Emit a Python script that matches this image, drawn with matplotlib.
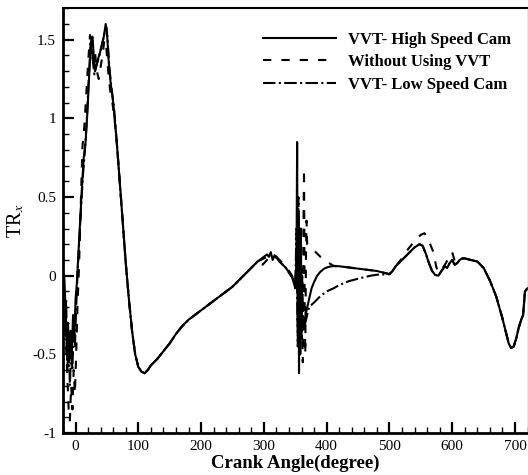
import numpy as np
import matplotlib
matplotlib.use("Agg")
import matplotlib.pyplot as plt
from matplotlib.ticker import MultipleLocator

plt.rcParams["font.family"] = ["Liberation Serif", "DejaVu Serif"]
plt.rcParams["mathtext.fontset"] = "stix"

# ---- data: torque ratio TR_x versus crank angle (degree) ----
# shared stretch of the cycle (expansion, 100-290 deg)
mid_angle = [65, 70, 75, 80, 85, 90, 95, 100, 105, 110, 115, 120, 130, 140, 150,
             160, 170, 180, 190, 200, 210, 220, 230, 240, 250, 260, 270, 280, 290]
mid_tr = [0.88, 0.62, 0.35, 0.08, -0.15, -0.35, -0.50, -0.58, -0.61, -0.62, -0.60,
          -0.57, -0.53, -0.48, -0.43, -0.37, -0.32, -0.28, -0.25, -0.22, -0.19,
          -0.16, -0.13, -0.10, -0.07, -0.03, 0.01, 0.05, 0.09]

# shared end of the cycle (610-720 deg)
tail_angle = [616, 620, 630, 640, 650, 660, 670, 680, 685, 690, 694, 698, 702,
              706, 710, 713, 716, 720]
tail_tr = [0.11, 0.11, 0.10, 0.09, 0.05, -0.03, -0.13, -0.27, -0.35, -0.43, -0.46,
           -0.45, -0.40, -0.33, -0.28, -0.25, -0.10, -0.08]

# VVT - high speed cam
high_head_angle = [-20, -18, -16, -14, -12, -10, -8, -6, -4, -2, 0, 2, 4, 6, 8, 10,
                   13, 16, 19, 22, 25, 27, 29, 31, 33, 36, 39, 42, 45, 48, 50, 53,
                   56, 60]
high_head_tr = [0.0, 0.0, -0.2, -0.45, -0.3, -0.55, -0.35, -0.5, -0.25, -0.4, -0.15,
                -0.05, 0.1, 0.25, 0.4, 0.55, 0.75, 0.85, 1.05, 1.3, 1.5, 1.52, 1.4,
                1.3, 1.33, 1.38, 1.42, 1.47, 1.52, 1.6, 1.55, 1.35, 1.22, 1.1]
high_body_angle = [300, 305, 308, 311, 314, 317, 320, 325, 330, 335, 340, 345, 348,
                   350, 352, 353, 354, 355, 356, 357, 358, 359, 360, 362, 365, 368,
                   372, 376, 380, 385, 390, 396, 402, 408, 414, 420, 430, 440, 450,
                   460, 470, 480, 490, 500, 505, 510, 520, 530, 540, 548, 553, 558,
                   563, 568, 573, 578, 583, 588, 592, 596, 600, 604, 608, 612]
high_body_tr = [0.12, 0.135, 0.12, 0.15, 0.10, 0.13, 0.12, 0.09, 0.07, 0.05, 0.02,
                -0.01, -0.05, -0.08, 0.10, 0.85, -0.30, 0.40, -0.62, 0.20, -0.50,
                0.30, -0.35, -0.32, -0.28, -0.22, -0.15, -0.08, -0.04, 0.0, 0.025,
                0.045, 0.055, 0.06, 0.062, 0.06, 0.055, 0.05, 0.045, 0.04, 0.035,
                0.03, 0.02, 0.01, 0.03, 0.06, 0.10, 0.14, 0.18, 0.20, 0.19, 0.14,
                0.08, 0.03, 0.005, 0.0, 0.03, 0.06, 0.05, 0.08, 0.10, 0.07, 0.08,
                0.10]

# Without using VVT
base_head_angle = [-20, -17, -14, -11, -9, -7, -5, -3, -1, 1, 3, 5, 7, 9, 11, 14,
                   17, 20, 23, 25, 28, 31, 34, 37, 40, 43, 46, 49, 52, 55, 58, 62]
base_head_tr = [-0.1, -0.3, -0.55, -0.85, -0.92, -0.7, -0.85, -0.6, -0.75, -0.5,
                -0.2, 0.0, 0.25, 0.55, 0.82, 0.95, 1.15, 1.35, 1.53, 1.45, 1.38,
                1.42, 1.30, 1.25, 1.33, 1.40, 1.50, 1.45, 1.30, 1.18, 1.12, 1.0]
base_body_angle = [298, 305, 310, 315, 320, 325, 330, 335, 340, 345, 348, 350, 353,
                   356, 359, 361, 362, 363, 364, 365, 366, 367, 368, 369, 372, 380,
                   390, 400, 410, 414, 420, 430, 440, 450, 460, 470, 480, 490, 500,
                   505, 510, 520, 530, 540, 550, 556, 560, 565, 570, 575, 580, 585,
                   590, 595, 600, 605, 610]
base_body_tr = [0.07, 0.10, 0.12, 0.11, 0.12, 0.10, 0.08, 0.05, 0.03, 0.0, -0.04,
                -0.06, 0.2, -0.4, 0.1, -0.3, -0.55, 0.3, 0.68, -0.2, -0.5, 0.1, 0.35,
                0.20, 0.19, 0.16, 0.12, 0.09, 0.065, 0.06, 0.06, 0.055, 0.05, 0.045,
                0.04, 0.035, 0.03, 0.02, 0.01, 0.03, 0.06, 0.11, 0.17, 0.22, 0.26,
                0.27, 0.24, 0.20, 0.15, 0.05, 0.02, 0.05, 0.08, 0.12, 0.15, 0.08,
                0.09]

# VVT - low speed cam
low_head_angle = [-20, -17, -15, -13, -11, -9, -7, -5, -3, -1, 1, 3, 5, 7, 9, 12,
                  15, 18, 21, 24, 26, 28, 30, 32, 35, 38, 41, 44, 47, 49, 51, 54,
                  57, 61]
low_head_tr = [-0.05, -0.35, -0.15, -0.6, -0.4, -0.7, -0.45, -0.6, -0.3, -0.45,
               -0.2, 0.0, 0.15, 0.3, 0.45, 0.65, 0.8, 1.0, 1.25, 1.48, 1.42, 1.35,
               1.28, 1.32, 1.36, 1.40, 1.45, 1.50, 1.56, 1.58, 1.50, 1.32, 1.20, 1.08]
low_body_angle = [300, 305, 310, 315, 320, 325, 330, 335, 340, 345, 348, 350, 352,
                  354, 355, 357, 358, 360, 361, 363, 366, 372, 380, 390, 400, 411,
                  420, 435, 454, 470, 480, 490, 500, 505, 510, 520, 530, 540, 548,
                  553, 558, 563, 568, 573, 578, 583, 588, 592, 596, 600, 604, 608,
                  612]
low_body_tr = [0.11, 0.12, 0.13, 0.12, 0.115, 0.09, 0.07, 0.05, 0.02, -0.01, -0.04,
               -0.07, 0.3, -0.45, 0.5, -0.3, 0.2, -0.4, 0.0, -0.35, -0.30, -0.20,
               -0.17, -0.13, -0.10, -0.08, -0.06, -0.035, -0.015, 0.0, 0.006, 0.008,
               0.01, 0.03, 0.06, 0.10, 0.14, 0.18, 0.20, 0.19, 0.14, 0.08, 0.03,
               0.005, 0.0, 0.03, 0.06, 0.05, 0.08, 0.10, 0.07, 0.08, 0.10]

labels = ["VVT- High Speed Cam", "Without Using VVT", "VVT- Low Speed Cam"]


def join(head_a, head_v, body_a, body_v):
    a = head_a + mid_angle + body_a + tail_angle
    v = head_v + mid_tr + body_v + tail_tr
    return np.array(a), np.array(v)


series = [
    join(high_head_angle, high_head_tr, high_body_angle, high_body_tr),
    join(base_head_angle, base_head_tr, base_body_angle, base_body_tr),
    join(low_head_angle, low_head_tr, low_body_angle, low_body_tr),
]
styles = [
    dict(linestyle="-"),
    dict(linestyle=(0, (4.0, 4.8))),
    dict(linestyle=(0, (6.0, 1.6, 1.0, 1.6))),
]

fig = plt.figure(figsize=(5.28, 4.75), dpi=100)
ax = fig.add_axes([63 / 528, 42 / 475, (527.5 - 63) / 528, (466.7 - 42) / 475])

handles = []
for (a, v), st, lab in zip(series, styles, labels):
    h, = ax.plot(a, v, color="black", linewidth=1.5, label=lab, **st)
    handles.append(h)

ax.set_xlim(-20, 720)
ax.set_ylim(-1, 1.7)
ax.xaxis.set_major_locator(MultipleLocator(100))
ax.xaxis.set_minor_locator(MultipleLocator(20))
ax.yaxis.set_major_locator(MultipleLocator(0.5))
ax.yaxis.set_minor_locator(MultipleLocator(0.1))
ax.set_yticks([-1, -0.5, 0, 0.5, 1, 1.5])
ax.set_yticklabels(["-1", "-0.5", "0", "0.5", "1", "1.5"])

ax.tick_params(which="major", direction="in", length=8, width=1.6,
               labelsize=11, top=False, right=False, pad=5)
ax.tick_params(which="minor", direction="in", length=4, width=1.0,
               top=False, right=False)

for side in ("left", "bottom"):
    ax.spines[side].set_linewidth(2.0)
ax.spines["top"].set_linewidth(1.5)
ax.spines["right"].set_linewidth(1.0)
ax.spines["right"].set_color("#888888")

ax.set_xlabel("Crank Angle(degree)", fontsize=13.5, fontweight="bold", labelpad=1)
ax.set_ylabel("TR$_x$", fontsize=14.5, labelpad=4)

ax.legend(handles=handles, loc="upper left", frameon=False,
          bbox_to_anchor=(263 / 528, 1 - 32 / 475), bbox_transform=fig.transFigure,
          prop=dict(family=["Liberation Serif"], weight="bold", size=12),
          handlelength=4.4, handletextpad=0.7, labelspacing=0.38, borderpad=0,
          borderaxespad=0)

fig.savefig("out.png", dpi=100)
